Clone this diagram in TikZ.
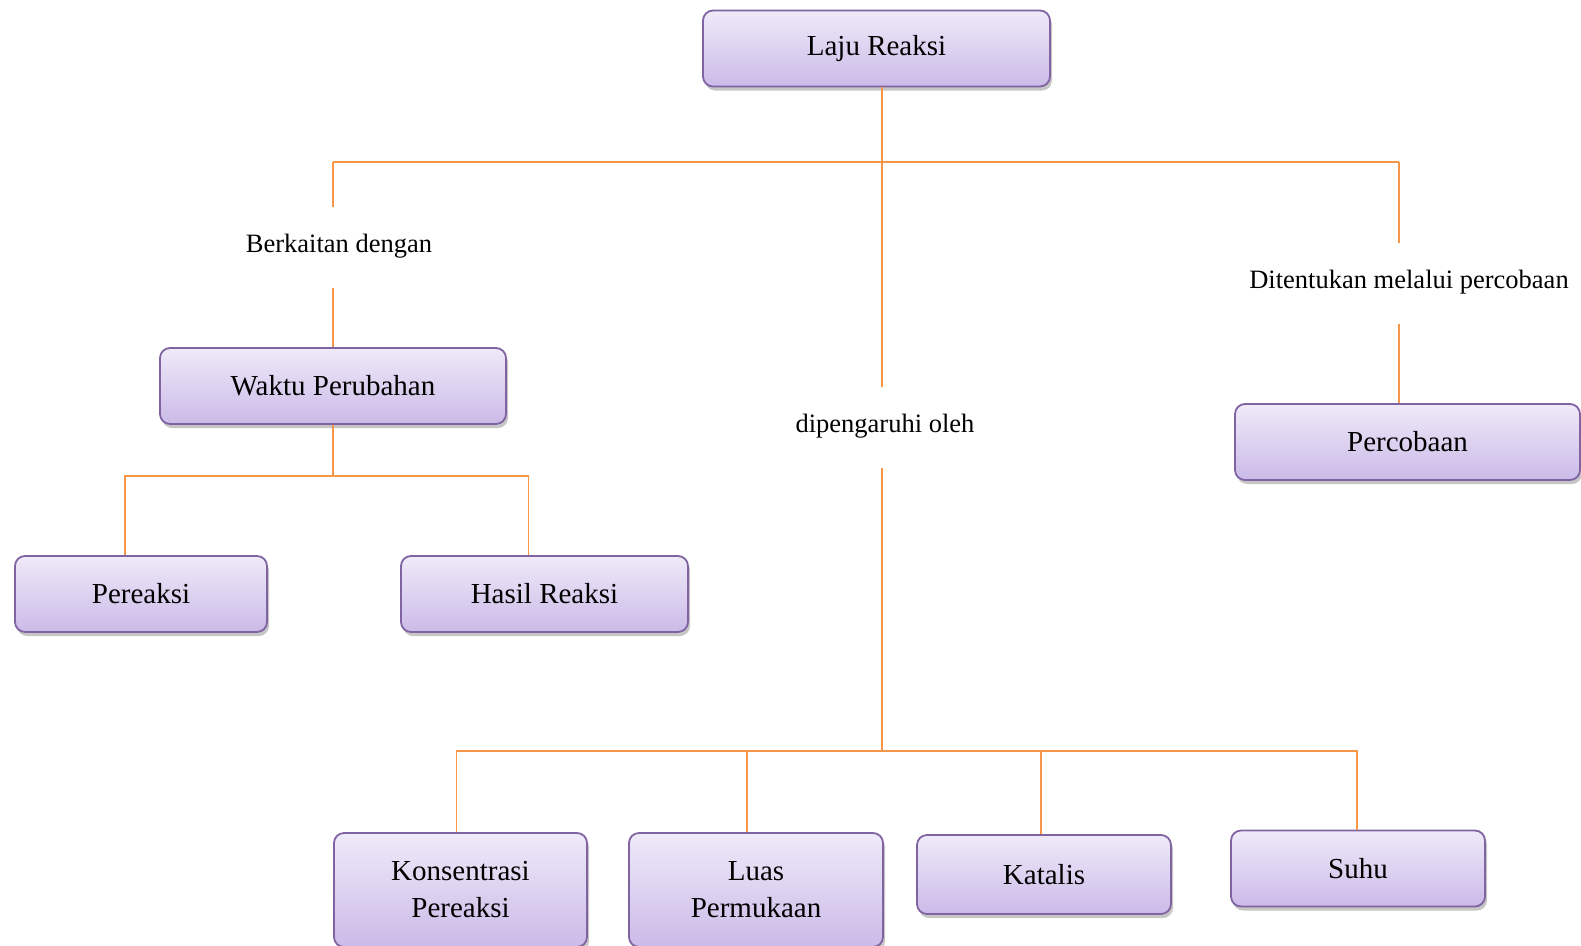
\documentclass[tikz,border=0pt]{standalone}
\usepackage{fontspec}
\setmainfont{Liberation Serif}
\usetikzlibrary{shadows}

\definecolor{boxline}{RGB}{128,100,162}
\definecolor{boxtop}{RGB}{239,234,249}
\definecolor{boxbot}{RGB}{203,186,232}
\definecolor{linkorange}{RGB}{247,150,70}

\begin{document}
\begin{tikzpicture}[x=1pt,y=-1pt,
  concept/.style={draw=boxline,line width=1.8pt,rounded corners=10pt,
    top color=boxtop,bottom color=boxbot,minimum height=76pt,align=center,
    font=\fontsize{29}{37}\selectfont,
    drop shadow={opacity=0.45,shadow xshift=2pt,shadow yshift=-4pt}},
  link/.style={draw=linkorange,line width=1.8pt},
  caption/.style={font=\fontsize{26.5}{30}\selectfont,anchor=base,
    text height=18pt,text depth=9pt,inner xsep=2pt,inner ysep=27pt}]

\useasboundingbox (0,0) rectangle (1581,945);

% Boxes
\node[concept,minimum width=347pt] (laju) at (876.5,48.5) {Laju Reaksi};
\node[concept,minimum width=346pt] (waktu) at (333,386) {Waktu Perubahan};
\node[concept,minimum width=252pt] (pereaksi) at (141,594) {Pereaksi};
\node[concept,minimum width=287pt] (hasil) at (544.5,594) {Hasil Reaksi};
\node[concept,minimum width=345pt] (percobaan) at (1407.5,442) {Percobaan};
\node[concept,minimum width=253pt,minimum height=114pt] (konsen) at (460.5,890) {Konsentrasi\\Pereaksi};
\node[concept,minimum width=254pt,minimum height=114pt] (luas) at (756,890) {Luas\\Permukaan};
\node[concept,minimum width=254pt,minimum height=79pt] (katalis) at (1044,874.5) {Katalis};
\node[concept,minimum width=254pt] (suhu) at (1358,868.5) {Suhu};

% Link captions
\node[caption] (berk) at (339,252) {Berkaitan dengan};
\node[caption] (dip) at (885,432) {dipengaruhi oleh};
\node[caption] (tentu) at (1409,288) {Ditentukan melalui percobaan};

% Junctions
\coordinate (tl) at (333,162);
\coordinate (tm) at (882,162);
\coordinate (tr) at (1399,162);
\coordinate (wj) at (333,476);
\coordinate (pj) at (882,751);

% Top level
\draw[link] (laju.south -| tm) -- (dip.north -| tm);
\draw[link] (tl) -- (tr);
\draw[link] (tl) -- (tl |- berk.north);
\draw[link] (tl |- berk.south) -- (waktu.north);
\draw[link] (tr) -- (tr |- tentu.north);
\draw[link] (tr |- tentu.south) -- (tr |- percobaan.north);

% Waktu Perubahan
\draw[link] (waktu.south) -- (wj);
\draw[link] ([xshift=-16pt]pereaksi.north) |- (wj) -| ([xshift=-16pt]hasil.north);

% dipengaruhi oleh
\draw[link] (dip.south -| pj) -- (pj);
\draw[link] ([xshift=-4pt]konsen.north) |- (pj) -| ([xshift=-1pt]suhu.north);
\draw[link] ([xshift=-9pt]luas.north) -- ([xshift=-9pt]luas.north |- pj);
\draw[link] ([xshift=-3pt]katalis.north) -- ([xshift=-3pt]katalis.north |- pj);

\end{tikzpicture}
\end{document}
